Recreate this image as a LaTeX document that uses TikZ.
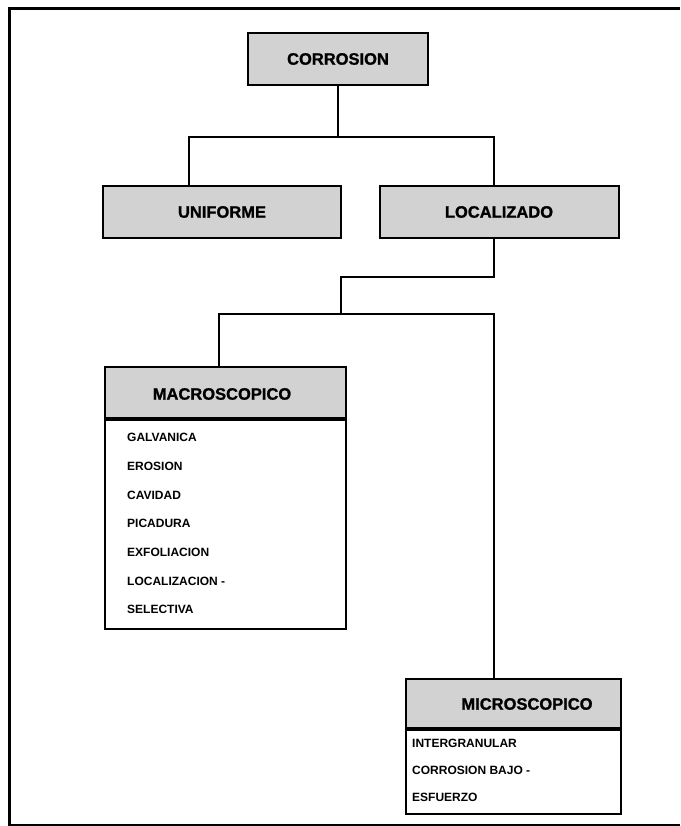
\documentclass[tikz,border=0pt]{standalone}
\usepackage{fontspec}
\setmainfont{Liberation Sans}
\newfontfamily\heavyfont[FakeBold=1.2]{Liberation Sans Bold}
\begin{document}
\begin{tikzpicture}[x=1pt,y=-1pt,
  hdr/.style={draw=black, line width=2pt, fill=gray!35, inner sep=0pt, font=\fontsize{16.5}{16.5}\selectfont\heavyfont},
  htext/.style={inner sep=0pt, font=\fontsize{16.5}{16.5}\selectfont\heavyfont},
  body/.style={draw=black, line width=2pt, fill=white, inner sep=0pt},
  item/.style={anchor=west, inner sep=0pt, font=\fontsize{12}{12}\selectfont\bfseries},
  conn/.style={line width=1.8pt, line cap=rect}]
\useasboundingbox (0,0) rectangle (680,826);
% frame
\draw[line width=3pt] (680,9) -- (9,9) -- (9,825) -- (680,825);
% boxes
\node[hdr, minimum width=180, minimum height=52] (corr) at (338,59) {CORROSION};
\node[hdr, minimum width=238, minimum height=52] (unif) at (222,212) {UNIFORME};
\node[hdr, minimum width=239, minimum height=52] (loc) at (499,212) {LOCALIZADO};
\node[body, minimum width=241, minimum height=209, anchor=north] (macrob) at (225,419) {};
\node[hdr, minimum width=241, minimum height=51, anchor=south] (macro) at (225,419) {};
\node[htext] (macrot) at (222,394) {MACROSCOPICO};
\node[body, minimum width=215, minimum height=84, anchor=north] (microb) at (513.5,729) {};
\node[hdr, minimum width=215, minimum height=49, anchor=south] (micro) at (513.5,729) {};
\node[htext] (microt) at (527,704) {MICROSCOPICO};
% items
\node[item] (i1) at (127,437) {GALVANICA};
\node[item] (i2) at (127,466) {EROSION};
\node[item] (i3) at (127,495) {CAVIDAD};
\node[item] (i4) at (127,523) {PICADURA};
\node[item] (i5) at (127,552) {EXFOLIACION};
\node[item] (i6) at (127,581) {LOCALIZACION -};
\node[item] (i7) at (127,609) {SELECTIVA};
\node[item] (j1) at (412,743) {INTERGRANULAR};
\node[item] (j2) at (412,770) {CORROSION BAJO -};
\node[item] (j3) at (412,797) {ESFUERZO};
% connectors
\coordinate (a1) at (189,137);
\coordinate (a2) at (494,137);
\coordinate (b1) at (494,277);
\coordinate (b2) at (341,277);
\coordinate (c1) at (219,314);
\coordinate (c2) at (494,314);
\draw[conn] (corr.south) -- (corr.south |- a1);
\draw[conn] (a1) -- (a2);
\draw[conn] (a1) -- (a1 |- unif.north);
\draw[conn] (a2) -- (a2 |- loc.north);
\draw[conn] (b1 |- loc.south) -- (b1) -- (b2) -- (b2 |- c1);
\draw[conn] (c1) -- (c2);
\draw[conn] (c1) -- (c1 |- macro.north);
\draw[conn] (c2) -- (c2 |- micro.north);
\end{tikzpicture}
\end{document}
